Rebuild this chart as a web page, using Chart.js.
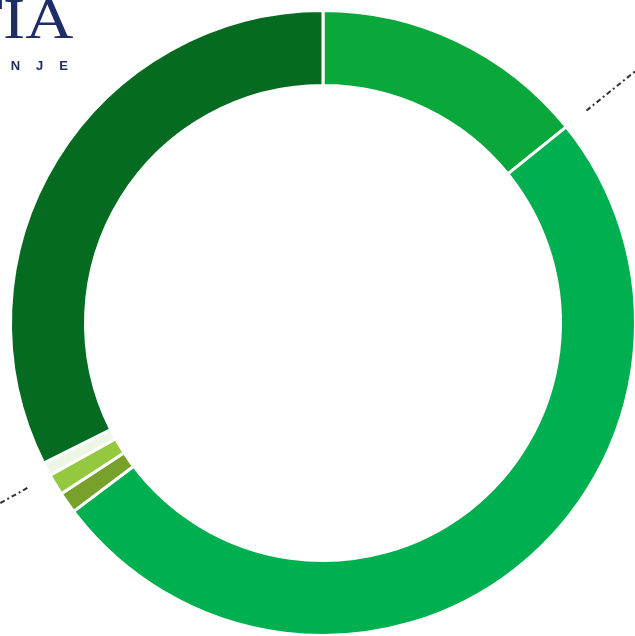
<!DOCTYPE html>
<html>
<head>
<meta charset="utf-8">
<script src="https://cdn.jsdelivr.net/npm/chart.js@4/dist/chart.umd.min.js"></script>
<style>
    html, body { margin: 0; padding: 0; background: #fff; overflow: hidden; width: 635px; height: 636px; }
    #wrap { position: absolute; left: 0; top: 0; width: 646px; height: 646px; }
    #logo { position: absolute; right: 562px; top: -10px; text-align: right; white-space: nowrap; }
    #logo .big { font-family: "Liberation Serif", "DejaVu Serif", serif; font-size: 58px; color: #1e2d66; line-height: 58px; transform: scaleX(1.15); transform-origin: right center; }
    #logo .small { font-family: "Liberation Sans", Arial, sans-serif; font-weight: bold; font-size: 13px; color: #1e2d66; letter-spacing: 16px; margin-top: 10px; margin-right: -11px; }
</style>
</head>
<body>
<div id="wrap"><canvas id="donut"></canvas></div>
<div id="logo"><div class="big">CROATIA</div><div class="small">OSIGURANJE</div></div>
<script>
// slices, clockwise from the top
const labels = ['A', 'B', 'C', 'D', 'E', 'F'];
const values = [14.2, 50.5, 1.1, 1.1, 0.7, 32.4];
const colors = ['#0aa83a', '#00b050', '#77a12b', '#93c83f', '#eef6e6', '#046b20'];

// dash-dot leader lines running off the picture
const leaders = [
    { slice: 0, at: 'end' },
    { slice: 3, at: 'end' }
];

const leaderPlugin = {
    id: 'leaders',
    afterDatasetsDraw(chart) {
        const c = chart.ctx;
        const arcs = chart.getDatasetMeta(0).data;
        c.save();
        c.strokeStyle = '#333';
        c.lineWidth = 2;
        c.setLineDash([5, 3, 2, 3]);
        leaders.forEach(l => {
            const a = arcs[l.slice];
            const ang = l.at === 'end' ? a.endAngle : (a.startAngle + a.endAngle) / 2;
            const r0 = a.outerRadius + 26;
            const r1 = a.outerRadius + 120;
            c.beginPath();
            c.moveTo(a.x + Math.cos(ang) * r0, a.y + Math.sin(ang) * r0);
            c.lineTo(a.x + Math.cos(ang) * r1, a.y + Math.sin(ang) * r1);
            c.stroke();
        });
        c.restore();
    }
};

const ctx = document.getElementById('donut').getContext('2d');
new Chart(ctx, {
    type: 'doughnut',
    data: {
        labels: labels,
        datasets: [{
            data: values,
            backgroundColor: colors,
            borderColor: '#ffffff',
            borderWidth: 3
        }]
    },
    options: {
        responsive: true,
        maintainAspectRatio: false,
        animation: false,
        cutout: '76%',
        layout: { padding: 9 },
        plugins: { legend: { display: false }, tooltip: { enabled: false } }
    },
    plugins: [leaderPlugin]
});
</script>
</body>
</html>
